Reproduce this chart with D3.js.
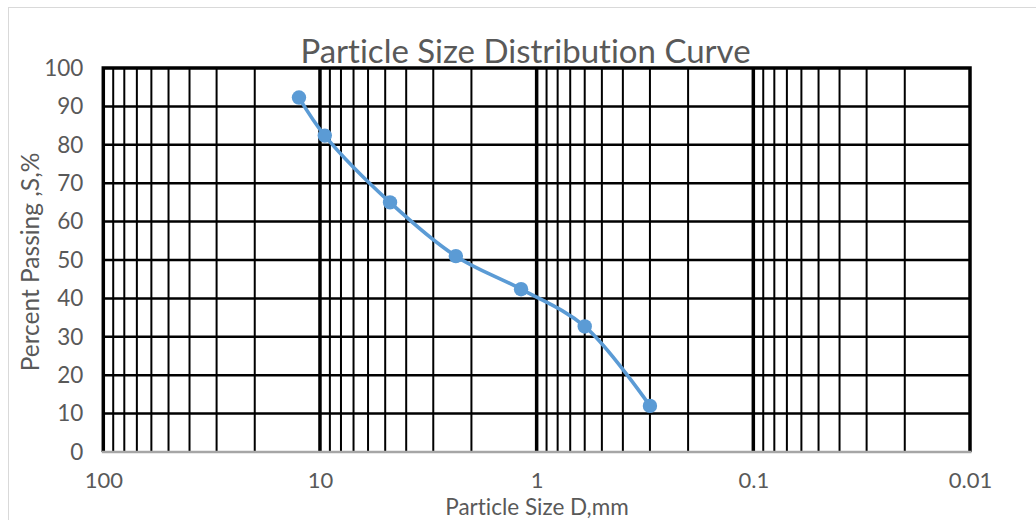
<!DOCTYPE html>
<html>
<head>
<meta charset="utf-8">
<script src="https://cdn.jsdelivr.net/npm/d3@7"></script>
<style>
  html, body { margin: 0; padding: 0; background: #fff; }
  svg { display: block; }
  text { font-family: Lato, "Open Sans", sans-serif; fill: #595959; font-variant-ligatures: none; }
</style>
</head>
<body>
<svg id="chart" width="1036" height="520"></svg>
<script>
// sieve sizes (mm) and percent passing
const sieveSizes = [12.5, 9.5, 4.75, 2.36, 1.18, 0.6, 0.3];
const percentPassing = [92.3, 82.4, 65.0, 51.0, 42.4, 32.7, 12.0];

const xTickValues = [100, 10, 1, 0.1, 0.01];
const xTickLabels = ["100", "10", "1", "0.1", "0.01"];
const yTickValues = [0, 10, 20, 30, 40, 50, 60, 70, 80, 90, 100];

const titleText = "Particle Size Distribution Curve";
const xTitle = "Particle Size D,mm";
const yTitle = "Percent Passing ,S,%";

const W = 1036, H = 520;
const margin = { left: 103.3, right: 66, top: 68, bottom: 68 };

const svg = d3.select("#chart");

// chart area border
svg.append("rect")
    .attr("x", 8.5).attr("y", 7.5)
    .attr("width", W + 20).attr("height", H + 20)
    .attr("fill", "none")
    .attr("stroke", "#d9d9d9")
    .attr("stroke-width", 1);

const x = d3.scaleLog()
    .domain([100, 0.01])
    .range([margin.left, W - margin.right]);

const y = d3.scaleLinear()
    .domain([0, 100])
    .range([H - margin.bottom, margin.top]);

// minor vertical grid lines: 2..9 in every decade
const minorX = [];
[0.01, 0.1, 1, 10].forEach(base => {
    for (let k = 2; k <= 9; k++) minorX.push(base * k);
});

const grid = svg.append("g").attr("class", "grid");

grid.selectAll("line.minor")
    .data(minorX)
    .join("line")
    .attr("class", "minor")
    .attr("x1", d => x(d)).attr("x2", d => x(d))
    .attr("y1", y(100)).attr("y2", y(0))
    .attr("stroke", "#000")
    .attr("stroke-width", 2);

grid.selectAll("line.major")
    .data(xTickValues.slice(1, -1))
    .join("line")
    .attr("class", "major")
    .attr("x1", d => x(d)).attr("x2", d => x(d))
    .attr("y1", y(100)).attr("y2", y(0))
    .attr("stroke", "#000")
    .attr("stroke-width", 3.5);

grid.selectAll("line.h")
    .data(yTickValues.slice(1, -1))
    .join("line")
    .attr("class", "h")
    .attr("x1", x(100)).attr("x2", x(0.01))
    .attr("y1", d => y(d)).attr("y2", d => y(d))
    .attr("stroke", "#000")
    .attr("stroke-width", 2.5);

// plot border: top, left, right black; bottom is the grey axis line
const x0 = x(100), x1 = x(0.01), yT = y(100), yB = y(0);
svg.append("path")
    .attr("d", `M${x0},${yB}V${yT}H${x1}V${yB}`)
    .attr("fill", "none")
    .attr("stroke", "#000")
    .attr("stroke-width", 3.5);

svg.append("line")
    .attr("x1", x0 - 1.5).attr("x2", x1 + 1.5)
    .attr("y1", yB).attr("y2", yB)
    .attr("stroke", "#a6a6a6")
    .attr("stroke-width", 2.5);

// axes (labels only)
const xAxis = d3.axisBottom(x)
    .tickValues(xTickValues)
    .tickFormat((d, i) => xTickLabels[i])
    .tickSize(0)
    .tickPadding(20);

svg.append("g")
    .attr("transform", `translate(0,${yB})`)
    .call(xAxis)
    .call(g => g.select(".domain").remove())
    .selectAll("text")
    .style("font-size", "22px")
    .attr("fill", "#595959");

const yAxis = d3.axisLeft(y)
    .tickValues(yTickValues)
    .tickSize(0)
    .tickPadding(20);

svg.append("g")
    .attr("transform", `translate(${x0},0)`)
    .call(yAxis)
    .call(g => g.select(".domain").remove())
    .selectAll("text")
    .style("font-size", "22.5px")
    .attr("fill", "#595959");

// series
const pts = sieveSizes.map((d, i) => [x(d), y(percentPassing[i])]);

svg.append("path")
    .attr("d", d3.line().curve(d3.curveCatmullRom.alpha(0.5))(pts))
    .attr("fill", "none")
    .attr("stroke", "#5b9bd5")
    .attr("stroke-width", 3.6)
    .attr("stroke-linejoin", "round");

svg.selectAll("circle.pt")
    .data(pts)
    .join("circle")
    .attr("class", "pt")
    .attr("cx", d => d[0]).attr("cy", d => d[1])
    .attr("r", 7.2)
    .attr("fill", "#5b9bd5");

// titles
svg.append("text")
    .attr("x", 525.5).attr("y", 63)
    .attr("text-anchor", "middle")
    .style("font-size", "33px")
    .text(titleText);

svg.append("text")
    .attr("x", 537).attr("y", 514.5)
    .attr("text-anchor", "middle")
    .style("font-size", "22.5px")
    .text(xTitle);

svg.append("text")
    .attr("transform", "translate(39,262) rotate(-90)")
    .attr("text-anchor", "middle")
    .style("font-size", "24.5px")
    .text(yTitle);
</script>
</body>
</html>
